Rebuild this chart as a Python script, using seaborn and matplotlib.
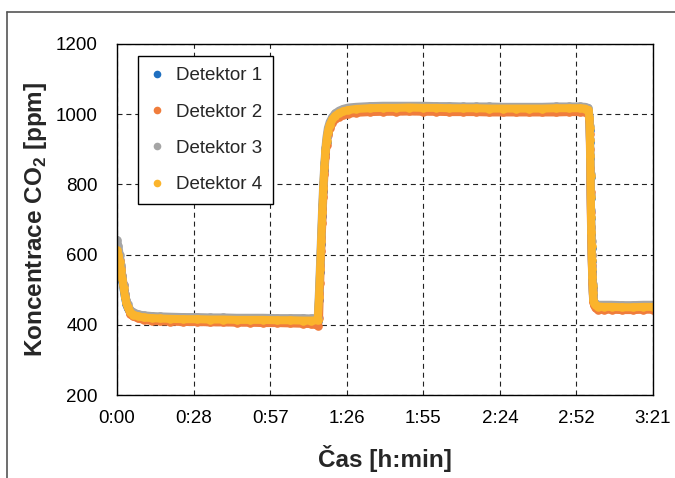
import matplotlib
matplotlib.use("Agg")
import matplotlib.pyplot as plt
from matplotlib import font_manager
from matplotlib.lines import Line2D
import seaborn as sns
import pandas as pd

# ---------------- data ----------------
detectors = ["Detektor 1", "Detektor 2", "Detektor 3", "Detektor 4"]
colors = ["#1F6FC0", "#F07D3C", "#A5A5A5", "#FBB42C"]

# time in minutes
time_min = [
    0, 0.5, 1, 1.5, 2, 2.5, 3, 3.5, 4, 5, 6, 8, 10, 13, 16, 20, 25, 30, 35, 40, 45, 50, 55, 60, 65, 70, 73, 75.5,
    76.0, 76.4, 76.8, 77.2, 77.6, 78.0, 78.4, 78.8, 79.3, 80, 81, 82, 83.5, 85, 87, 90,
    95, 100, 105, 110, 115, 120, 125, 130, 135, 140, 145, 150, 155, 160, 165, 170, 174, 176, 177.3,
    177.7, 177.8, 177.9, 178.0, 178.1, 178.2, 178.3, 178.4, 178.5, 178.6, 178.7, 178.8, 178.9, 179.0, 179.2, 179.5, 180, 181,
    183, 186, 190, 194, 198, 201.5,
]

det1 = [
    615, 600, 578, 552, 526, 500, 478, 460, 448, 434, 427, 422, 419, 417, 416, 415, 414, 414, 413, 413, 412, 412, 412, 411, 411, 410, 410, 410,
    470, 550, 630, 710, 780, 842, 890, 920, 946, 966, 982, 992, 1000, 1005, 1009, 1012,
    1014, 1015, 1015, 1016, 1015, 1015, 1014, 1014, 1014, 1013, 1013, 1013, 1013, 1013, 1014, 1014, 1014, 1013, 1010,
    985, 955, 920, 875, 820, 760, 705, 660, 620, 582, 553, 532, 507, 487, 470, 460, 453, 450,
    449, 449, 448, 448, 449, 449,
]
det2 = [
    605, 598, 585, 565, 540, 512, 488, 468, 452, 432, 424, 418, 414, 411, 410, 409, 408, 408, 407, 407, 406, 406, 405, 405, 404, 403, 402, 398,
    420, 520, 610, 690, 765, 830, 878, 912, 940, 960, 975, 985, 992, 997, 1001, 1004,
    1006, 1007, 1007, 1008, 1007, 1007, 1006, 1006, 1006, 1005, 1005, 1005, 1005, 1005, 1005, 1006, 1006, 1005, 1003,
    980, 945, 900, 846, 779, 720, 680, 640, 600, 570, 545, 520, 500, 480, 465, 455, 447, 443,
    443, 443, 442, 442, 443, 443,
]
det3 = [
    642, 625, 600, 570, 540, 512, 488, 470, 458, 443, 436, 430, 427, 425, 424, 423, 422, 422, 421, 421, 420, 420, 420, 419, 419, 419, 418, 420,
    500, 580, 660, 740, 805, 860, 905, 935, 960, 978, 992, 1002, 1010, 1015, 1019, 1021,
    1023, 1024, 1024, 1024, 1024, 1023, 1023, 1022, 1022, 1022, 1021, 1021, 1021, 1021, 1022, 1022, 1022, 1021, 1018,
    995, 965, 930, 885, 830, 770, 727, 680, 640, 600, 565, 540, 515, 495, 478, 466, 460, 457,
    457, 457, 456, 456, 457, 457,
]
det4 = [
    612, 600, 580, 555, 530, 505, 480, 462, 450, 436, 429, 424, 421, 419, 418, 417, 416, 416, 415, 415, 414, 414, 414, 413, 413, 412, 412, 413,
    480, 560, 640, 720, 790, 850, 895, 925, 950, 970, 985, 995, 1003, 1008, 1012, 1015,
    1017, 1018, 1018, 1019, 1018, 1018, 1017, 1017, 1017, 1016, 1016, 1016, 1016, 1016, 1017, 1017, 1017, 1016, 1012,
    990, 960, 926, 881, 825, 765, 708, 665, 625, 586, 558, 537, 510, 490, 472, 462, 455, 452,
    451, 451, 450, 450, 451, 451,
]

x_ticks = [0, 28.8, 57.6, 86.4, 115.2, 144.0, 172.8, 201.6]
x_tick_labels = ["0:00", "0:28", "0:57", "1:26", "1:55", "2:24", "2:52", "3:21"]
y_ticks = [200, 400, 600, 800, 1000, 1200]

# ---------------- style ----------------
sns.set_theme(style="white")
avail = {f.name for f in font_manager.fontManager.ttflist}
fam = "Liberation Sans Narrow" if "Liberation Sans Narrow" in avail else "Liberation Sans"
narrow = fam == "Liberation Sans Narrow"
tick_fs = 15 if narrow else 13.5
lab_fs = 20 if narrow else 17.5
plt.rcParams["font.family"] = [fam, "DejaVu Sans"]
plt.rcParams["mathtext.fontset"] = "custom"
plt.rcParams["mathtext.rm"] = fam
plt.rcParams["mathtext.bf"] = fam + ":bold"
plt.rcParams["lines.solid_capstyle"] = "round"
plt.rcParams["lines.solid_joinstyle"] = "round"

frames = []
for name, vals in zip(detectors, [det1, det2, det3, det4]):
    frames.append(pd.DataFrame({"t": time_min, "v": vals, "det": name}))
df = pd.concat(frames, ignore_index=True)

fig = plt.figure(figsize=(6.75, 4.78), dpi=100)
ax = fig.add_axes([117 / 675, 1 - 395 / 478, (653 - 117) / 675, (395 - 44) / 478])

sns.lineplot(data=df, x="t", y="v", hue="det", hue_order=detectors,
             palette=dict(zip(detectors, colors)), estimator=None, sort=False,
             linewidth=5.8, marker="o", markersize=6.2, markeredgewidth=0,
             legend=False, ax=ax)

ax.set_xlim(0, 201.6)
ax.set_ylim(200, 1200)
ax.set_xticks(x_ticks)
ax.set_xticklabels(x_tick_labels)
ax.set_yticks(y_ticks)
ax.tick_params(axis="both", length=0, labelsize=tick_fs, colors="black")
ax.tick_params(axis="y", pad=14)
ax.tick_params(axis="x", pad=11)

ax.grid(True, color="#222222", linestyle=(0, (4.5, 3.5)), linewidth=0.8)
for s in ax.spines.values():
    s.set_color("black")
    s.set_linewidth(1.0)
    s.set_visible(True)

ax.set_xlabel("Čas [h:min]", fontsize=lab_fs, fontweight="bold", va="center")
ax.set_ylabel(r"Koncentrace CO$_\mathbf{2}$ [ppm]", fontsize=lab_fs, fontweight="bold", va="center")
ax.xaxis.set_label_coords(0.5, (395 - 458) / 351)
ax.yaxis.set_label_coords((36 - 117) / 536, 0.5)

handles = [Line2D([], [], marker="o", linestyle="", color=c, markersize=5.5, markeredgewidth=0)
           for c in colors]
leg = ax.legend(handles, detectors, loc="upper left",
                bbox_to_anchor=((138 - 117) / 536, (395 - 56) / 351),
                borderaxespad=0, fontsize=tick_fs, frameon=True, fancybox=False,
                edgecolor="black", framealpha=1, labelspacing=1.02,
                handlelength=0.8, handletextpad=0.6, borderpad=0.6)
leg.get_frame().set_linewidth(1.0)

# outer chart frame (top and left visible)
fig.add_artist(Line2D([7 / 675, 1.0], [1 - 12 / 478, 1 - 12 / 478], color="#555555", lw=1.2,
                      transform=fig.transFigure))
fig.add_artist(Line2D([7 / 675, 7 / 675], [0, 1 - 12 / 478], color="#555555", lw=1.2,
                      transform=fig.transFigure))

fig.savefig("out.png", dpi=100)
